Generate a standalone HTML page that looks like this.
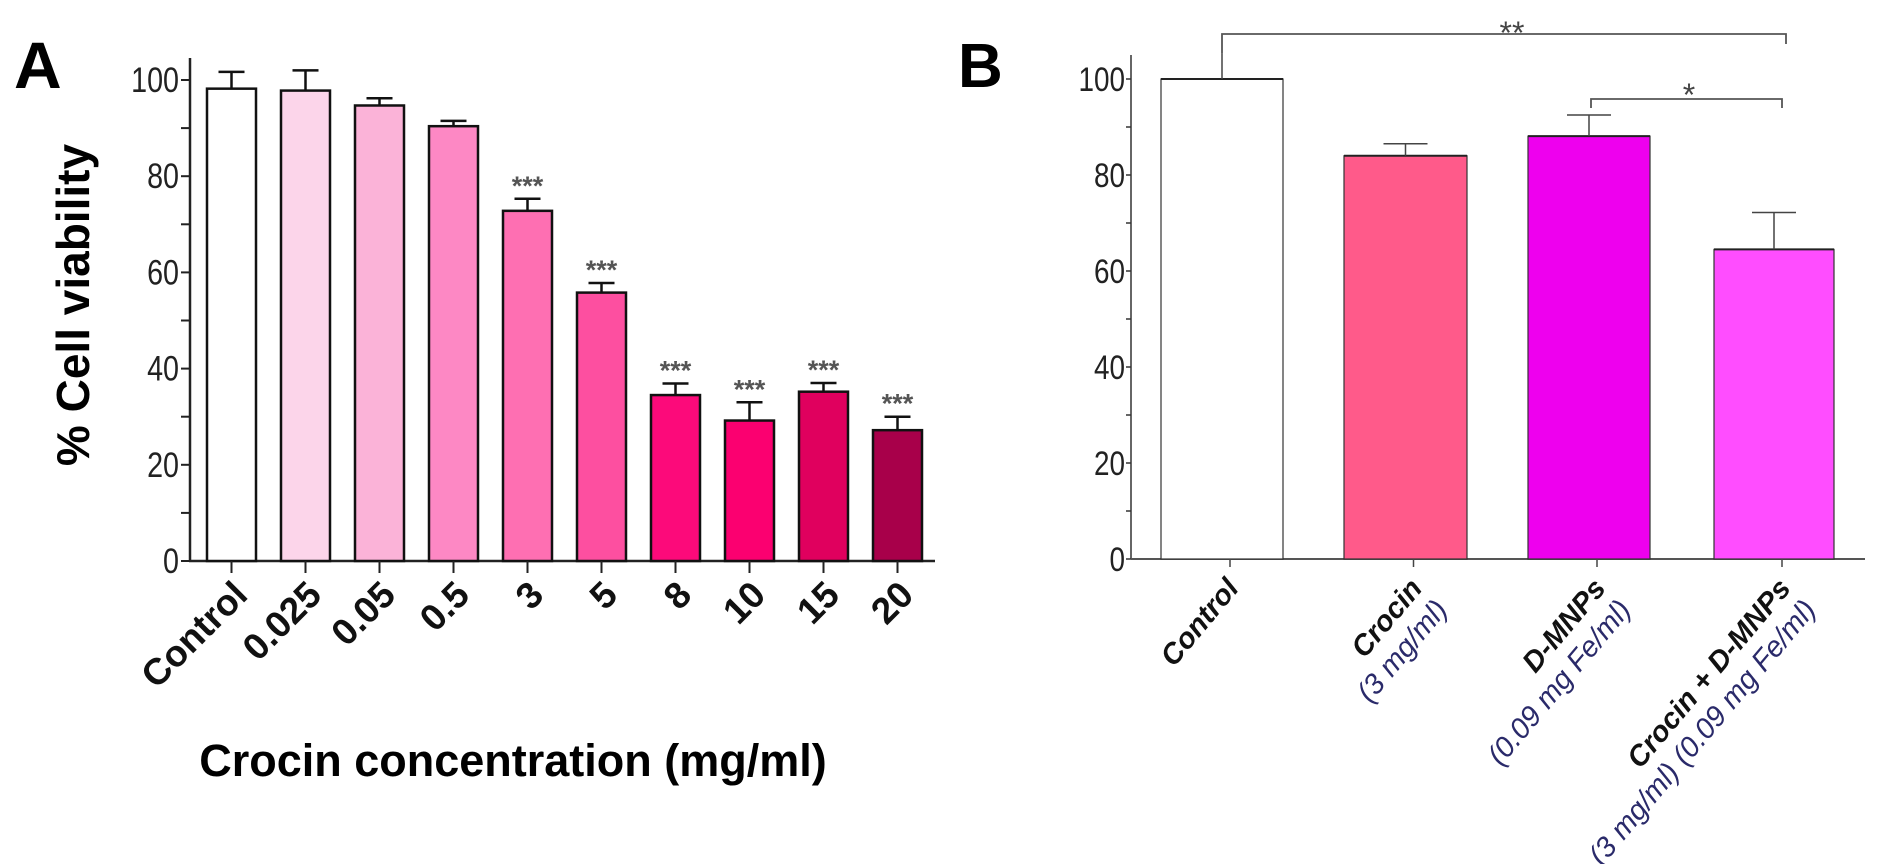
<!DOCTYPE html>
<html><head><meta charset="utf-8"><style>
html,body{margin:0;padding:0;background:#fff;width:1892px;height:864px;overflow:hidden}
svg{display:block}
text{font-family:"Liberation Sans",sans-serif}
</style></head><body>
<svg id="fig" width="1892" height="864"></svg>
<script>
// Panel A data
const catsA = ["Control","0.025","0.05","0.5","3","5","8","10","15","20"];
const valsA = [98.2,97.8,94.7,90.4,72.8,55.8,34.5,29.2,35.2,27.2];
const errA = [3.5,4.2,1.5,1.1,2.5,2.0,2.4,3.8,1.8,2.8];
const sigA = ["","","","","***","***","***","***","***","***"];
const colorsA = ["#ffffff","#fcd5ea","#fbb3d8","#fd88c4","#fe6fb2","#fd4fa0","#fc0a7a","#fb0070","#e0005e","#a8004a"];
const ticksA = [0,20,40,60,80,100];
// Panel B data
const catsB = ["Control","Crocin","D-MNPs","Crocin + D-MNPs"];
const subB = ["","(3 mg/ml)","(0.09 mg Fe/ml)","(3 mg/ml)  (0.09 mg Fe/ml)"];
const valsB = [100,84,88.1,64.5];
const errB = [5.4,2.5,4.4,7.7];
const colorsB = ["#ffffff","#ff5a8a","#ee00ee","#ff4dff"];
const ticksB = [0,20,40,60,80,100];

const NS="http://www.w3.org/2000/svg";
const svg=document.getElementById('fig');
function mk(tag,attrs,parent){const e=document.createElementNS(NS,tag);for(const k in attrs)e.setAttribute(k,attrs[k]);(parent||svg).appendChild(e);return e;}

// ---------- Panel A ----------
const gA=mk('g',{});


const axA={x0:190,x1:935,y0:561,yTop:58};
const yA=v=>axA.y0-v*4.81;
const xA=i=>207+i*74;
const bwA=49;
let t=mk('text',{x:14,y:88,'font-size':66,'font-weight':'bold'},gA);t.textContent='A';


let l=mk('line',{x1:axA.x0,y1:axA.yTop,x2:axA.x0,y2:axA.y0+1,stroke:'#222','stroke-width':2.5},gA);


l=mk('line',{x1:axA.x0-1,y1:axA.y0,x2:axA.x1,y2:axA.y0,stroke:'#222','stroke-width':2.5},gA);


for(let v=0;v<=100;v+=10){mk('line',{x1:axA.x0-9,y1:yA(v),x2:axA.x0,y2:yA(v),stroke:'#222','stroke-width':2},gA);}
ticksA.forEach(v=>{const e=mk('text',{x:0,y:0,'font-size':35,'text-anchor':'end',transform:`translate(${axA.x0-11},${yA(v)+12}) scale(0.82,1)`,fill:'#222'},gA);e.textContent=v;

});
catsA.forEach((c,i)=>{
  const x=xA(i),y=yA(valsA[i]),cx=x+bwA/2,ye=yA(valsA[i]+errA[i]);
  const r=mk('rect',{x:x,y:y,width:bwA,height:axA.y0-y,fill:colorsA[i],stroke:'#111','stroke-width':2.5},gA);
  
  
  const e=mk('path',{d:`M${cx},${y} V${ye} M${cx-13},${ye} H${cx+13}`,stroke:'#111','stroke-width':2.5,fill:'none'},gA);
  
  
  mk('line',{x1:cx,y1:axA.y0,x2:cx,y2:axA.y0+12,stroke:'#222','stroke-width':2},gA);
  if(sigA[i]){const s=mk('text',{x:cx,y:ye-4,'font-size':27,'font-weight':'bold','text-anchor':'middle',fill:'#555'},gA);s.textContent=sigA[i];
  
  }
  const tl=mk('text',{x:0,y:0,'font-size':37,'font-weight':'bold','text-anchor':'end',transform:`translate(${cx+18},${axA.y0+36}) rotate(-45)`,fill:'#111'},gA);tl.textContent=c;
  
  
});
t=mk('text',{x:0,y:0,'font-size':46,'font-weight':'bold','text-anchor':'middle',transform:'translate(89,305) rotate(-90)'},gA);t.textContent='% Cell viability';


t=mk('text',{x:513,y:776,'font-size':45,'font-weight':'bold','text-anchor':'middle'},gA);t.textContent='Crocin concentration (mg/ml)';



// ---------- Panel B ----------
const gB=mk('g',{});


const axB={x0:1131,x1:1865,y0:559,yTop:55};
const yB=v=>axB.y0-v*4.8;
const xB=i=>[1161,1344,1528,1714][i];
const bwB=[122,123,122,120];
t=mk('text',{x:958,y:87,'font-size':62,'font-weight':'bold'},gB);t.textContent='B';


l=mk('line',{x1:axB.x0,y1:axB.yTop,x2:axB.x0,y2:axB.y0,stroke:'#333','stroke-width':1.5},gB);


l=mk('line',{x1:axB.x0,y1:axB.y0,x2:axB.x1,y2:axB.y0,stroke:'#555','stroke-width':2},gB);


for(let v=0;v<=100;v+=10){mk('line',{x1:axB.x0-5,y1:yB(v),x2:axB.x0,y2:yB(v),stroke:'#333','stroke-width':1.5},gB);}
ticksB.forEach(v=>{const e=mk('text',{x:0,y:0,'font-size':34,'text-anchor':'end',transform:`translate(${axB.x0-6},${yB(v)+12}) scale(0.82,1)`,fill:'#222'},gB);e.textContent=v;

});
catsB.forEach((c,i)=>{
  const x=xB(i),w=bwB[i],y=yB(valsB[i]),cx=x+w/2,ye=yB(valsB[i]+errB[i]);
  const r=mk('rect',{x:x,y:y,width:w,height:axB.y0-y,fill:colorsB[i],stroke:'#333','stroke-width':1.2},gB);
  
  
  mk('line',{x1:x,y1:y,x2:x+w,y2:y,stroke:'#222','stroke-width':2},gB);
  const e=mk('path',{d:i===0?`M${cx},${y} V${ye}`:`M${cx},${y} V${ye} M${cx-22},${ye} H${cx+22}`,stroke:'#444','stroke-width':1.5,fill:'none'},gB);
  
  
  mk('line',{x1:cx+8,y1:axB.y0,x2:cx+8,y2:axB.y0+8,stroke:'#444','stroke-width':1.5},gB);
  const tl=mk('text',{x:0,y:0,'font-size':29,'font-style':'italic','text-anchor':'end',transform:`translate(${cx+18},${axB.y0+30}) rotate(-50)`},gB);
  
  
  const a=mk('tspan',{x:0,'font-weight':'bold',fill:'#111'},tl);a.textContent=c;
  if(subB[i]){const b=mk('tspan',{x:0,dy:33,fill:'#2a2a6a'},tl);b.textContent=subB[i];}
});
// significance brackets
const br1=mk('path',{d:`M${xB(0)+bwB[0]/2},${yB(105.4)} V34 H1786 V44`,stroke:'#555','stroke-width':1.8,fill:'none'},gB);


t=mk('text',{x:1512,y:44,'font-size':32,'text-anchor':'middle',fill:'#444'},gB);t.textContent='**';


const br2=mk('path',{d:'M1591,108 V99 H1782 V108',stroke:'#555','stroke-width':1.8,fill:'none'},gB);


t=mk('text',{x:1689,y:106,'font-size':32,'text-anchor':'middle',fill:'#444'},gB);t.textContent='*';


</script>
</body></html>
